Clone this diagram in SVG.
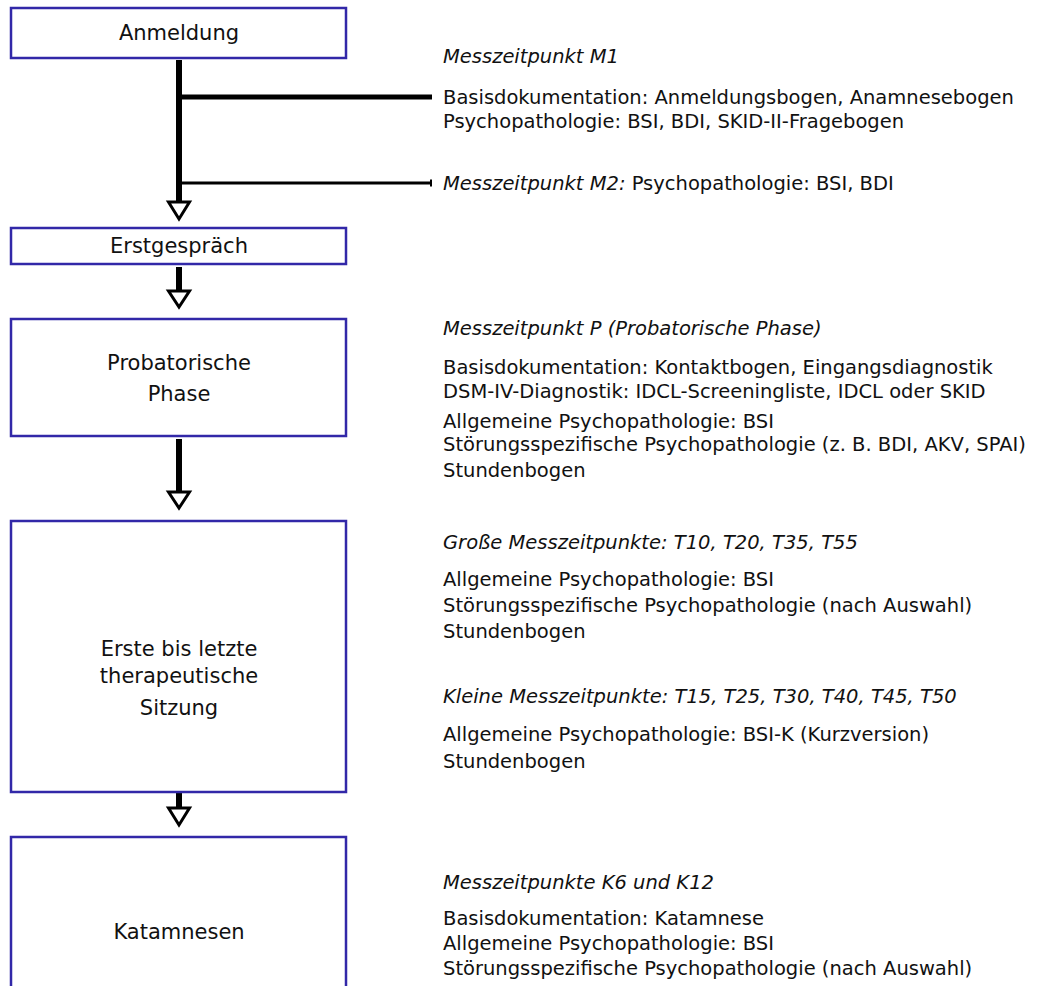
<svg xmlns="http://www.w3.org/2000/svg" width="1044" height="986" viewBox="0 0 1044 986">
<style>
.box{fill:#fff;stroke:#3228a8;stroke-width:2.5}
.lbl{font-family:"DejaVu Sans",Verdana,sans-serif;font-size:21px;fill:#111;text-anchor:middle}
.t{font-family:"DejaVu Sans",Verdana,sans-serif;font-size:19.5px;fill:#111}
.i{font-style:italic}
.ln{stroke:#000;fill:none}
.head{fill:#fff;stroke:#000;stroke-width:3;stroke-linejoin:miter}
</style>
<rect width="1044" height="986" fill="#fff"/>
<g id="connectors">
<line class="ln" x1="179" y1="60" x2="179" y2="202" stroke-width="6"/>
<line class="ln" x1="179" y1="97" x2="432" y2="97" stroke-width="5"/>
<line class="ln" x1="179" y1="183" x2="431" y2="183" stroke-width="3"/>
<line class="ln" x1="431" y1="179.5" x2="431" y2="186.5" stroke-width="2"/>
<polygon class="head" points="168.5,202 189.5,202 179,219"/>
<line class="ln" x1="179" y1="267" x2="179" y2="291" stroke-width="6"/>
<polygon class="head" points="168.5,291 189.5,291 179,307"/>
<line class="ln" x1="179" y1="439" x2="179" y2="492" stroke-width="6"/>
<polygon class="head" points="168.5,492 189.5,492 179,508"/>
<line class="ln" x1="179" y1="788" x2="179" y2="808" stroke-width="6"/>
<polygon class="head" points="168.5,808 189.5,808 179,825"/>
</g>
<g id="anmeldung">
<rect class="box" x="11" y="8" width="335" height="50"/>
<text class="lbl" x="179" y="40">Anmeldung</text>
</g>
<g id="erstgespraech">
<rect class="box" x="11" y="228" width="335" height="36"/>
<text class="lbl" x="179" y="253">Erstgespräch</text>
</g>
<g id="probatorische">
<rect class="box" x="11" y="319" width="335" height="117"/>
<text class="lbl" x="179" y="370">Probatorische</text>
<text class="lbl" x="179" y="401">Phase</text>
</g>
<g id="sitzung">
<rect class="box" x="11" y="521" width="335" height="271"/>
<text class="lbl" x="179" y="656">Erste bis letzte</text>
<text class="lbl" x="179" y="683">therapeutische</text>
<text class="lbl" x="179" y="715">Sitzung</text>
</g>
<g id="katamnesen">
<rect class="box" x="11" y="837" width="335" height="160"/>
<text class="lbl" x="179" y="939">Katamnesen</text>
</g>
<g id="info-m1">
<text class="t i" x="443" y="63">Messzeitpunkt M1</text>
<text class="t" x="443" y="104">Basisdokumentation: Anmeldungsbogen, Anamnesebogen</text>
<text class="t" x="443" y="128">Psychopathologie: BSI, BDI, SKID-II-Fragebogen</text>
</g>
<g id="info-m2">
<text class="t" x="443" y="190"><tspan class="i">Messzeitpunkt  M2:</tspan> Psychopathologie: BSI, BDI</text>
</g>
<g id="info-p">
<text class="t i" x="443" y="335">Messzeitpunkt P (Probatorische Phase)</text>
<text class="t" x="443" y="374">Basisdokumentation: Kontaktbogen, Eingangsdiagnostik</text>
<text class="t" x="443" y="398">DSM-IV-Diagnostik: IDCL-Screeningliste, IDCL oder SKID</text>
<text class="t" x="443" y="428">Allgemeine Psychopathologie: BSI</text>
<text class="t" x="443" y="451">Störungsspezifische Psychopathologie (z. B. BDI, AKV, SPAI)</text>
<text class="t" x="443" y="477">Stundenbogen</text>
</g>
<g id="info-t">
<text class="t i" x="443" y="549">Große Messzeitpunkte: T10, T20, T35, T55</text>
<text class="t" x="443" y="586">Allgemeine Psychopathologie: BSI</text>
<text class="t" x="443" y="612">Störungsspezifische Psychopathologie (nach Auswahl)</text>
<text class="t" x="443" y="638">Stundenbogen</text>
<text class="t i" x="443" y="703">Kleine Messzeitpunkte: T15, T25, T30, T40, T45, T50</text>
<text class="t" x="443" y="741">Allgemeine Psychopathologie: BSI-K (Kurzversion)</text>
<text class="t" x="443" y="768">Stundenbogen</text>
</g>
<g id="info-k">
<text class="t i" x="443" y="889">Messzeitpunkte K6 und K12</text>
<text class="t" x="443" y="925">Basisdokumentation: Katamnese</text>
<text class="t" x="443" y="950">Allgemeine Psychopathologie: BSI</text>
<text class="t" x="443" y="975">Störungsspezifische Psychopathologie (nach Auswahl)</text>
</g>
</svg>
